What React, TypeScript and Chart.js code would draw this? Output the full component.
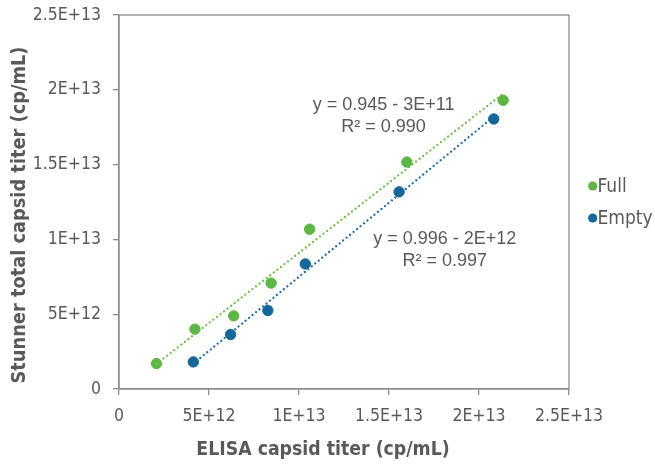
import React, { useEffect, useRef } from "react";
import { Chart, registerables } from "chart.js";

Chart.register(...registerables);

// ---- data (values in units of cp/mL) ----
const fullX = [2.08e12, 4.22e12, 6.37e12, 8.45e12, 10.59e12, 15.99e12, 21.34e12];
const fullY = [1.70e12, 4.0e12, 4.89e12, 7.08e12, 10.68e12, 15.17e12, 19.30e12];
const emptyX = [4.13e12, 6.2e12, 8.27e12, 10.35e12, 15.56e12, 20.82e12];
const emptyY = [1.81e12, 3.64e12, 5.25e12, 8.36e12, 13.18e12, 18.05e12];

const axisTicks = [0, 5e12, 1e13, 1.5e13, 2e13, 2.5e13];
const tickLabels = ["0", "5E+12", "1E+13", "1.5E+13", "2E+13", "2.5E+13"];

const seriesNames = ["Full", "Empty"];
const eqFull = ["y = 0.945 - 3E+11", "R\u00B2 = 0.990"];
const eqEmpty = ["y = 0.996 - 2E+12", "R\u00B2 = 0.997"];

const xTitle = "ELISA capsid titer (cp/mL)";
const yTitle = "Stunner total capsid titer (cp/mL)";

const GREEN = "#5db645";
const GREEN_LINE = "#6cbf4c";
const BLUE = "#15679a";
const BLUE_LINE = "#1d6c9e";
const GRAY_TEXT = "#595959";
const AXIS = "#8c8c8c";

function fitLine(xs: number[], ys: number[]) {
  const n = xs.length;
  const mx = xs.reduce((a, b) => a + b, 0) / n;
  const my = ys.reduce((a, b) => a + b, 0) / n;
  let sxy = 0, sxx = 0;
  for (let i = 0; i < n; i++) {
    sxy += (xs[i] - mx) * (ys[i] - my);
    sxx += (xs[i] - mx) * (xs[i] - mx);
  }
  const m = sxy / sxx;
  const b = my - m * mx;
  const x0 = Math.min(...xs);
  const x1 = Math.max(...xs);
  return [
    { x: x0, y: m * x0 + b },
    { x: x1, y: m * x1 + b },
  ];
}

const decorPlugin = {
  id: "decor",
  beforeDatasetsDraw(chart: any) {
    const { ctx, chartArea } = chart;
    ctx.save();
    ctx.strokeStyle = AXIS;
    ctx.lineWidth = 1.3;
    ctx.strokeRect(chartArea.left, chartArea.top, chartArea.right - chartArea.left, chartArea.bottom - chartArea.top);
    ctx.restore();
  },
  afterDraw(chart: any) {
    const { ctx, scales } = chart;
    const xs = scales.x;
    const ys = scales.y;
    ctx.save();
    // equations
    ctx.fillStyle = GRAY_TEXT;
    ctx.font = "18px 'Liberation Sans', Arial, sans-serif";
    ctx.textAlign = "center";
    ctx.textBaseline = "middle";
    const fx = xs.getPixelForValue(14.7e12);
    const fy = ys.getPixelForValue(18.95e12);
    ctx.fillText(eqFull[0], fx, fy);
    ctx.fillText(eqFull[1], fx, fy + 22);
    const ex = xs.getPixelForValue(18.1e12);
    const ey = ys.getPixelForValue(10.05e12);
    ctx.fillText(eqEmpty[0], ex, ey);
    ctx.fillText(eqEmpty[1], ex, ey + 22);

    // axis titles
    ctx.font = "bold 19.3px 'DejaVu Sans Condensed', 'DejaVu Sans', sans-serif";
    ctx.fillStyle = GRAY_TEXT;
    ctx.fillText(xTitle, 323, 450);
    ctx.save();
    ctx.translate(20, 215);
    ctx.rotate(-Math.PI / 2);
    ctx.font = "bold 19.8px 'DejaVu Sans Condensed', 'DejaVu Sans', sans-serif";
    ctx.fillText(yTitle, 0, 0);
    ctx.restore();

    // legend
    const colors = [GREEN, BLUE];
    const ly = [186, 218];
    ctx.font = "19px 'DejaVu Sans Condensed', 'DejaVu Sans', sans-serif";
    ctx.textAlign = "left";
    for (let i = 0; i < 2; i++) {
      ctx.beginPath();
      ctx.fillStyle = colors[i];
      ctx.arc(592.7, ly[i], 4.6, 0, Math.PI * 2);
      ctx.fill();
      ctx.fillStyle = GRAY_TEXT;
      ctx.fillText(seriesNames[i], 597.5, ly[i] + 1);
    }
    ctx.restore();
  },
};

export default function App() {
  const ref = useRef<HTMLCanvasElement | null>(null);
  useEffect(() => {
    if (!ref.current) return;
    const fullPts = fullX.map((x, i) => ({ x, y: fullY[i] }));
    const emptyPts = emptyX.map((x, i) => ({ x, y: emptyY[i] }));
    const tickFont = { family: "'DejaVu Sans Condensed', 'DejaVu Sans', sans-serif", size: 17.5 };
    const chart = new Chart(ref.current, {
      type: "scatter",
      data: {
        datasets: [
          {
            label: "Full trend",
            type: "line",
            data: fitLine(fullX, fullY),
            borderColor: GREEN_LINE,
            borderWidth: 2.3,
            borderDash: [0.01, 4.5],
            borderCapStyle: "round",
            pointRadius: 0,
            fill: false,
          } as any,
          {
            label: "Empty trend",
            type: "line",
            data: fitLine(emptyX, emptyY),
            borderColor: BLUE_LINE,
            borderWidth: 2.3,
            borderDash: [0.01, 4.5],
            borderCapStyle: "round",
            pointRadius: 0,
            fill: false,
          } as any,
          {
            label: seriesNames[0],
            data: fullPts,
            backgroundColor: GREEN,
            borderColor: GREEN,
            pointRadius: 5.2,
            pointHoverRadius: 5.2,
          },
          {
            label: seriesNames[1],
            data: emptyPts,
            backgroundColor: BLUE,
            borderColor: BLUE,
            pointRadius: 5.2,
            pointHoverRadius: 5.2,
          },
        ],
      },
      options: {
        responsive: false,
        animation: false,
        devicePixelRatio: 1,
        layout: { padding: { top: 15, right: 86, left: 0, bottom: 0 } },
        plugins: { legend: { display: false }, tooltip: { enabled: false } },
        scales: {
          x: {
            type: "linear",
            min: 0,
            max: 2.5e13,
            afterFit: (s: any) => {
              s.height = 75;
              s.paddingLeft = 0;
              s.paddingRight = 0;
            },
            afterBuildTicks: (s: any) => {
              s.ticks = axisTicks.map((v) => ({ value: v }));
            },
            ticks: {
              callback: (_v: any, i: number) => tickLabels[i],
              color: GRAY_TEXT,
              font: tickFont,
              padding: 11,
              maxRotation: 0,
            },
            grid: { display: true, drawOnChartArea: false, drawTicks: true, tickLength: 6, color: AXIS, lineWidth: 1.3 },
            border: { display: true, color: AXIS, width: 1.3 },
          },
          y: {
            type: "linear",
            min: 0,
            max: 2.5e13,
            afterFit: (s: any) => {
              s.width = 119;
              s.paddingTop = 0;
              s.paddingBottom = 0;
            },
            afterBuildTicks: (s: any) => {
              s.ticks = axisTicks.map((v) => ({ value: v }));
            },
            ticks: {
              callback: (_v: any, i: number) => tickLabels[i],
              color: GRAY_TEXT,
              font: tickFont,
              padding: 12,
            },
            grid: { display: true, drawOnChartArea: false, drawTicks: true, tickLength: 6, color: AXIS, lineWidth: 1.3 },
            border: { display: true, color: AXIS, width: 1.3 },
          },
        },
      },
      plugins: [decorPlugin],
    } as any);
    return () => chart.destroy();
  }, []);
  return (
    <div style={{ position: "absolute", left: 0, top: 0, width: 655, height: 464, background: "#fff" }}>
      <canvas ref={ref} width={655} height={464} style={{ display: "block", width: 655, height: 464 }} />
    </div>
  );
}
